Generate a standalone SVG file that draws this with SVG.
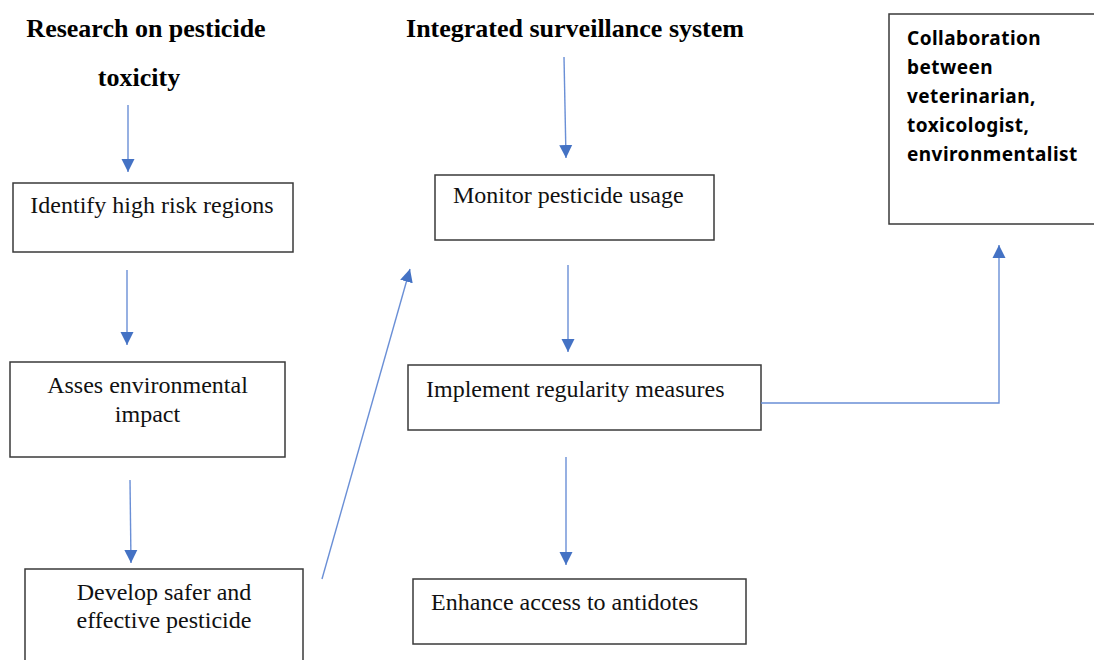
<svg xmlns="http://www.w3.org/2000/svg" width="1094" height="660" viewBox="0 0 1094 660">
<style>
.box{fill:#fff;stroke:#3a3a3a;stroke-width:1.5}
.t{font-family:"Liberation Serif","Times New Roman",serif;font-size:24px;fill:#111}
.h{font-family:"Liberation Serif","Times New Roman",serif;font-size:26px;font-weight:bold;fill:#000}
.c{font-family:"Noto Sans","Liberation Sans",sans-serif;font-size:19px;font-weight:bold;letter-spacing:0.45px;fill:#000}
.ln{fill:none;stroke:#6a8fd6;stroke-width:1.4}
</style>
<defs>
<marker id="ah" markerUnits="userSpaceOnUse" markerWidth="14" markerHeight="14" viewBox="0 0 14 14" refX="13" refY="7" orient="auto">
<path d="M0,0.5 L13,7 L0,13.5 Z" fill="#4472c4"/>
</marker>
</defs>
<rect width="1094" height="660" fill="#fff"/>
<g id="title-research">
<text class="h" x="146" y="37" text-anchor="middle">Research on pesticide</text>
<text class="h" x="139" y="86" text-anchor="middle">toxicity</text>
</g>
<g id="title-surveillance">
<text class="h" x="575" y="37" text-anchor="middle">Integrated surveillance system</text>
</g>
<g id="node-identify">
<rect class="box" x="13" y="183" width="280" height="69"/>
<text class="t" x="152" y="213" text-anchor="middle">Identify high risk regions</text>
</g>
<g id="node-asses">
<rect class="box" x="10" y="362" width="275" height="95"/>
<text class="t" x="147.5" y="393" text-anchor="middle">Asses environmental</text>
<text class="t" x="147.5" y="422" text-anchor="middle">impact</text>
</g>
<g id="node-develop">
<rect class="box" x="25" y="569" width="278" height="120"/>
<text class="t" x="164" y="600" text-anchor="middle">Develop safer and</text>
<text class="t" x="164" y="628" text-anchor="middle">effective pesticide</text>
</g>
<g id="node-monitor">
<rect class="box" x="435" y="175" width="279" height="65"/>
<text class="t" x="453" y="203">Monitor pesticide usage</text>
</g>
<g id="node-implement">
<rect class="box" x="408" y="365" width="353" height="65"/>
<text class="t" x="426" y="397">Implement regularity measures</text>
</g>
<g id="node-enhance">
<rect class="box" x="413" y="579" width="333" height="65"/>
<text class="t" x="431" y="610">Enhance access to antidotes</text>
</g>
<g id="node-collaboration">
<rect class="box" x="889" y="14" width="220" height="210"/>
<text class="c" x="907" y="45">Collaboration</text>
<text class="c" x="907" y="74">between</text>
<text class="c" x="907" y="103">veterinarian,</text>
<text class="c" x="907" y="132">toxicologist,</text>
<text class="c" x="907" y="161">environmentalist</text>
</g>
<g id="connectors">
<line class="ln" x1="128" y1="105" x2="128" y2="172" marker-end="url(#ah)"/>
<line class="ln" x1="127" y1="270" x2="127" y2="345" marker-end="url(#ah)"/>
<line class="ln" x1="130" y1="480" x2="131" y2="563" marker-end="url(#ah)"/>
<line class="ln" x1="322" y1="579" x2="410" y2="269" marker-end="url(#ah)"/>
<line class="ln" x1="564" y1="57" x2="566" y2="158" marker-end="url(#ah)"/>
<line class="ln" x1="568" y1="265" x2="568" y2="352" marker-end="url(#ah)"/>
<line class="ln" x1="566" y1="457" x2="566" y2="565" marker-end="url(#ah)"/>
<polyline class="ln" points="761,403 999,403 999,245" marker-end="url(#ah)"/>
</g>
</svg>
